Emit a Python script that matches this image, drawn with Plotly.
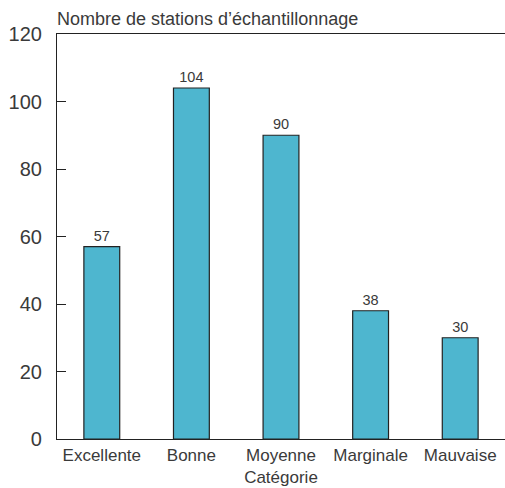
import plotly.graph_objects as go

categories = ["Excellente", "Bonne", "Moyenne", "Marginale", "Mauvaise"]
stations = [57, 104, 90, 38, 30]
y_ticks = [0, 20, 40, 60, 80, 100, 120]

font_family = "Liberation Sans, Arial, sans-serif"
text_color = "#3a3a3a"
line_color = "#222222"

fig = go.Figure(
    go.Bar(
        x=categories,
        y=stations,
        width=0.4,
        marker=dict(color="#4EB6CF", line=dict(color=line_color, width=1.2)),
        text=[str(v) for v in stations],
        textposition="outside",
        textfont=dict(size=14.5, color=text_color, family=font_family),
        cliponaxis=False,
    )
)

fig.update_layout(
    width=505,
    height=488,
    margin=dict(l=57, r=0, t=34, b=49),
    plot_bgcolor="white",
    paper_bgcolor="white",
    showlegend=False,
    font=dict(family=font_family, color=text_color),
    bargap=0.6,
)

fig.update_xaxes(
    range=[-0.5, 4.5],
    showline=True,
    linecolor=line_color,
    linewidth=1.2,
    mirror=True,
    ticks="",
    tickfont=dict(size=17, color=text_color),
    title=dict(text="Catégorie", font=dict(size=17, color=text_color), standoff=7),
    automargin=False,
    showgrid=False,
)

fig.update_yaxes(
    range=[0, 120],
    tickvals=y_ticks,
    ticktext=[str(v) for v in y_ticks],
    showline=True,
    linecolor=line_color,
    linewidth=1.2,
    ticks="inside",
    ticklen=9,
    tickcolor=line_color,
    tickwidth=1,
    ticklabelstandoff=10,
    tickfont=dict(size=20, color=text_color),
    showgrid=False,
    zeroline=False,
)

fig.add_annotation(
    text="Nombre de stations d’échantillonnage",
    xref="paper", yref="paper",
    x=0, y=1, xanchor="left", yanchor="bottom",
    xshift=-2, yshift=3,
    showarrow=False,
    font=dict(size=18, color=text_color),
)

fig.write_html("out.html")
